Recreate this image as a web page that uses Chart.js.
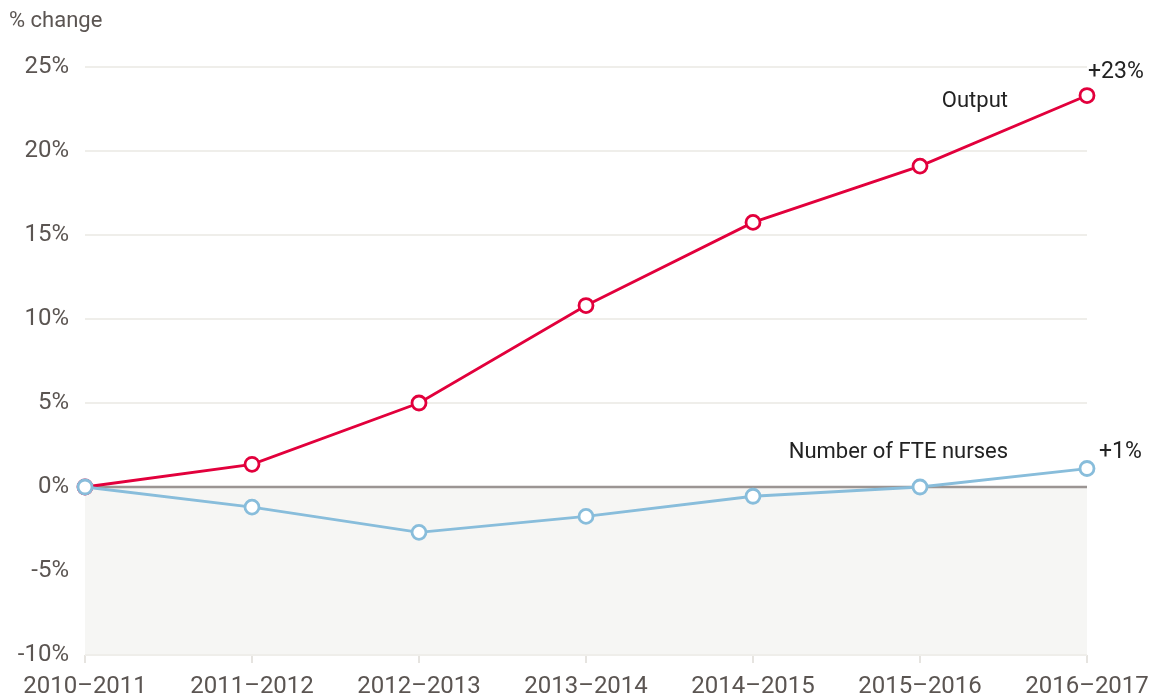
<!DOCTYPE html>
<html>
<head>
<meta charset="utf-8">
<script src="https://cdn.jsdelivr.net/npm/chart.js@4.4.0/dist/chart.umd.min.js"></script>
<style>
  html, body { margin: 0; padding: 0; background: #fff; }
  #wrap { position: relative; width: 1152px; height: 700px; }
</style>
</head>
<body>
<div id="wrap"><canvas id="lineChart" width="1152" height="700"></canvas></div>
<script>
/*global Chart, document*/
'use strict';

// data
var years = ['2010\u20132011', '2011\u20132012', '2012\u20132013', '2013\u20132014', '2014\u20132015', '2015\u20132016', '2016\u20132017'];
var output = [0, 1.35, 5.0, 10.8, 15.75, 19.1, 23.3];
var nurses = [0, -1.2, -2.7, -1.75, -0.55, 0, 1.1];
var yTicks = [25, 20, 15, 10, 5, 0, -5, -10];

// Main colours
var red = '#e2003c';
var blue = '#88bddb';
var textColor = '#5b5552';
var fontName = 'Roboto, "Liberation Sans", sans-serif';

// ------------------------------------------------------- //
// Shading under zero, zero line, annotations
// ------------------------------------------------------ //
var backdrop = {
    id: 'backdrop',
    beforeDatasetsDraw: function (chart) {
        var ctx = chart.ctx;
        var area = chart.chartArea;
        var y = chart.scales.y;
        var zero = y.getPixelForValue(0);
        ctx.save();
        ctx.fillStyle = '#f6f6f4';
        ctx.fillRect(area.left, zero, area.right - area.left, y.getPixelForValue(-10) - zero - 1);
        ctx.strokeStyle = '#9b9593';
        ctx.lineWidth = 2.5;
        ctx.beginPath();
        ctx.moveTo(area.left, zero);
        ctx.lineTo(area.right, zero);
        ctx.stroke();
        ctx.restore();
    },
    afterDatasetsDraw: function (chart) {
        var ctx = chart.ctx;
        var last = years.length - 1;
        var pOut = chart.getDatasetMeta(0).data[last];
        var pNur = chart.getDatasetMeta(1).data[last];
        ctx.save();
        ctx.fillStyle = '#222';
        ctx.font = '22px ' + fontName;
        ctx.textBaseline = 'middle';
        ctx.textAlign = 'right';
        ctx.fillText('Output', pOut.x - 79, pOut.y + 6);
        ctx.fillText('Number of FTE nurses', pNur.x - 79, pNur.y - 16);
        ctx.font = '23px ' + fontName;
        ctx.textAlign = 'left';
        ctx.fillText('+' + Math.round(output[last]) + '%', pOut.x + 1, pOut.y - 23);
        ctx.fillText('+' + Math.round(nurses[last]) + '%', pNur.x + 12, pNur.y - 16);
        ctx.fillStyle = textColor;
        ctx.font = '22px ' + fontName;
        ctx.fillText('% change', 9, 21);
        ctx.restore();
    }
};

var LINECHART = document.getElementById('lineChart');
var myLineChart = new Chart(LINECHART, {
    type: 'line',
    plugins: [backdrop],
    data: {
        labels: years,
        datasets: [
            {
                label: 'Output',
                data: output,
                order: 1,
                borderColor: red,
                borderWidth: 2.8,
                pointRadius: 7,
                pointBorderWidth: 2.8,
                pointBackgroundColor: '#fff',
                pointBorderColor: red,
                lineTension: 0
            },
            {
                label: 'Number of FTE nurses',
                data: nurses,
                order: 0,
                borderColor: blue,
                borderWidth: 2.8,
                pointRadius: 7,
                pointBorderWidth: 2.8,
                pointBackgroundColor: '#fff',
                pointBorderColor: blue,
                lineTension: 0
            }
        ]
    },
    options: {
        responsive: false,
        animation: false,
        layout: { padding: { top: 67, right: 65, left: 0, bottom: 0 } },
        plugins: {
            legend: { display: false },
            tooltip: { enabled: false }
        },
        scales: {
            x: {
                offset: false,
                grid: { drawOnChartArea: false, drawTicks: true, tickLength: 8, color: '#e6e4e0', lineWidth: 2 },
                border: { display: false },
                ticks: { color: textColor, font: { family: fontName, size: 24 }, padding: 10, maxRotation: 0, autoSkip: false },
                afterFit: function (scale) {
                    scale.height = 45;
                    scale.paddingLeft = 0;
                    scale.paddingRight = 0;
                }
            },
            y: {
                min: -10,
                max: 25,
                afterBuildTicks: function (scale) {
                    scale.ticks = yTicks.map(function (v) { return { value: v }; });
                },
                grid: { color: '#efeeea', lineWidth: 2, drawTicks: false },
                border: { display: false },
                ticks: {
                    color: textColor,
                    font: { family: fontName, size: 24 },
                    padding: 16,
                    callback: function (v) { return v + '%'; }
                },
                afterFit: function (scale) { scale.width = 85; }
            }
        }
    }
});
</script>
</body>
</html>
